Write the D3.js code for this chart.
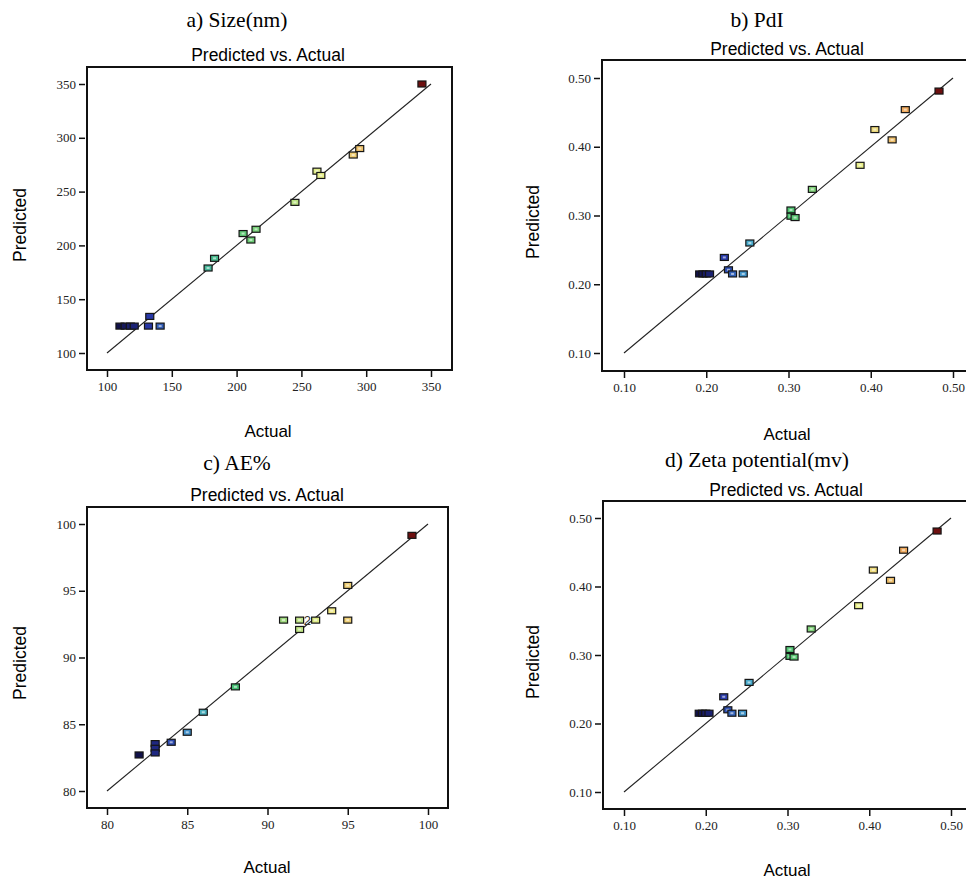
<!DOCTYPE html>
<html>
<head>
<meta charset="utf-8">
<script src="https://cdn.jsdelivr.net/npm/d3@7"></script>
<style>
  body { margin: 0; background: #fff; }
  .tick text { font-family: "Liberation Serif", serif; font-size: 13px; fill: #222; }
  .tick line { stroke: #111; stroke-width: 1.5px; }
</style>
</head>
<body>
<div id="chart"></div>
<script>
// a) Size(nm)
var sizeActual    = [110, 114, 118, 121, 133, 132, 141, 178, 183, 205, 211, 215, 245, 262, 265, 290, 295, 343];
var sizePredicted = [125, 125, 125, 125, 134, 125, 125, 179, 188, 211, 205, 215, 240, 269, 265, 284, 290, 350];
var sizeTicks     = [100, 150, 200, 250, 300, 350];

// b) PdI
var pdiActual    = [0.192, 0.196, 0.200, 0.204, 0.222, 0.227, 0.232, 0.245, 0.253, 0.303, 0.303, 0.308, 0.329, 0.387, 0.405, 0.426, 0.442, 0.483];
var pdiPredicted = [0.215, 0.215, 0.215, 0.215, 0.239, 0.221, 0.215, 0.215, 0.260, 0.308, 0.299, 0.297, 0.338, 0.373, 0.425, 0.410, 0.454, 0.481];
var pdiTicks     = [0.10, 0.20, 0.30, 0.40, 0.50];

// c) AE%
var aeActual    = [82, 83, 83, 83, 84, 85, 86, 88, 91, 92, 92, 93, 94, 95, 95, 99];
var aePredicted = [82.7, 83.55, 83.2, 82.85, 83.65, 84.4, 85.9, 87.8, 92.8, 92.8, 92.1, 92.8, 93.5, 95.4, 92.8, 99.15];
var aeTicks     = [80, 85, 90, 95, 100];
var aeNotes     = [{actual: 93, predicted: 92.8, text: "2"}];

// d) Zeta potential(mv)
var zetaActual    = [0.192, 0.196, 0.200, 0.204, 0.222, 0.227, 0.232, 0.245, 0.253, 0.303, 0.303, 0.308, 0.329, 0.387, 0.405, 0.426, 0.442, 0.483];
var zetaPredicted = [0.215, 0.215, 0.215, 0.215, 0.239, 0.220, 0.215, 0.215, 0.260, 0.308, 0.298, 0.297, 0.338, 0.372, 0.424, 0.409, 0.453, 0.481];
var zetaTicks     = [0.10, 0.20, 0.30, 0.40, 0.50];

var svg = d3.select("#chart").append("svg")
    .attr("width", 966)
    .attr("height", 880)
    .style("background-color", "#fff");

// rainbow used by the design software, low = navy, high = dark red
var rainbow = d3.scaleLinear()
    .domain([0, 0.1, 0.2, 0.36, 0.68, 0.88, 1])
    .range(["#12124a", "#2838a8", "#48a8d0", "#46c070", "#eef08a", "#eea055", "#6e1010"]);

function panel(opt) {
    var g = svg.append("g");
    var x = d3.scaleLinear().domain(opt.domain).range(opt.xr);
    var y = d3.scaleLinear().domain(opt.domain).range(opt.yr);
    var ext = d3.extent(opt.actual);

    g.append("text")
        .attr("x", opt.title[0]).attr("y", opt.title[1])
        .attr("text-anchor", "middle")
        .style("font-family", "Liberation Serif, serif")
        .style("font-size", "21.5px")
        .text(opt.label);

    g.append("text")
        .attr("x", opt.sub[0]).attr("y", opt.sub[1])
        .attr("text-anchor", "middle")
        .style("font-family", "Liberation Sans, Arial, sans-serif")
        .style("font-size", "17.5px")
        .text("Predicted vs. Actual");

    g.append("rect")
        .attr("x", opt.frame[0]).attr("y", opt.frame[1])
        .attr("width", opt.frame[2] - opt.frame[0])
        .attr("height", opt.frame[3] - opt.frame[1])
        .attr("fill", "none")
        .attr("stroke", "#111")
        .attr("stroke-width", 2);

    var fmt = opt.fmt;
    var yAxis = g.append("g")
        .attr("transform", "translate(" + (opt.frame[0] - 2) + ",0)")
        .call(d3.axisLeft(y).tickValues(opt.ticks).tickSize(6).tickPadding(3).tickFormat(fmt));
    yAxis.select(".domain").remove();

    var xAxis = g.append("g")
        .attr("transform", "translate(0," + (opt.frame[3] + 1) + ")")
        .call(d3.axisBottom(x).tickValues(opt.ticks).tickSize(6).tickPadding(5).tickFormat(fmt));
    xAxis.select(".domain").remove();

    // y = x reference line
    g.append("line")
        .attr("x1", x(opt.domain[0])).attr("y1", y(opt.domain[0]))
        .attr("x2", x(opt.domain[1])).attr("y2", y(opt.domain[1]))
        .attr("stroke", "#222")
        .attr("stroke-width", 1.1);

    var pts = opt.actual.map(function(a, i) { return {a: a, p: opt.predicted[i]}; });

    var mark = g.append("g").selectAll("g")
        .data(pts)
        .enter().append("g")
        .attr("transform", function(d) { return "translate(" + x(d.a) + "," + y(d.p) + ")"; });

    mark.append("rect")
        .attr("x", -4).attr("y", -3)
        .attr("width", 8).attr("height", 6)
        .attr("fill", function(d) { return rainbow((d.a - ext[0]) / (ext[1] - ext[0])); })
        .attr("stroke", "#151515")
        .attr("stroke-width", 1.2);

    mark.append("rect")
        .attr("x", -1.5).attr("y", -1)
        .attr("width", 3).attr("height", 2)
        .attr("fill", function(d) {
            var t = (d.a - ext[0]) / (ext[1] - ext[0]);
            if (t < 0.1 || t > 0.95) return rainbow(t);
            return d3.interpolateRgb(rainbow(t), "#fff")(0.55);
        });

    if (opt.notes) {
        g.selectAll(".note")
            .data(opt.notes)
            .enter().append("text")
            .attr("class", "note")
            .attr("x", function(d) { return x(d.actual) - 12; })
            .attr("y", function(d) { return y(d.predicted) + 5; })
            .style("font-family", "Liberation Sans, Arial, sans-serif")
            .style("font-size", "13px")
            .attr("fill", "#333")
            .text(function(d) { return d.text; });
    }

    g.append("text")
        .attr("transform", "translate(" + opt.ylab[0] + "," + opt.ylab[1] + ") rotate(-90)")
        .attr("text-anchor", "middle")
        .attr("dominant-baseline", "central")
        .style("font-family", "Liberation Sans, Arial, sans-serif")
        .style("font-size", "17.5px")
        .text("Predicted");

    g.append("text")
        .attr("x", opt.xlab[0]).attr("y", opt.xlab[1])
        .attr("text-anchor", "middle")
        .style("font-family", "Liberation Sans, Arial, sans-serif")
        .style("font-size", "17px")
        .text("Actual");
}

panel({
    label: "a) Size(nm)", actual: sizeActual, predicted: sizePredicted, ticks: sizeTicks,
    domain: [100, 350], fmt: d3.format("d"),
    frame: [87, 67, 452, 370], xr: [107, 431], yr: [353, 84],
    title: [237, 27], sub: [268, 61], ylab: [20, 225], xlab: [268, 437]
});

panel({
    label: "b) PdI", actual: pdiActual, predicted: pdiPredicted, ticks: pdiTicks,
    domain: [0.10, 0.50], fmt: d3.format(".2f"),
    frame: [602, 60, 985, 371], xr: [624, 953], yr: [353, 78],
    title: [757, 27], sub: [787, 55], ylab: [533, 222], xlab: [787, 440]
});

panel({
    label: "c) AE%", actual: aeActual, predicted: aePredicted, ticks: aeTicks, notes: aeNotes,
    domain: [80, 100], fmt: d3.format("d"),
    frame: [87, 507, 448, 808], xr: [107, 428], yr: [791, 524],
    title: [237, 470], sub: [267, 501], ylab: [20, 663], xlab: [267, 873]
});

panel({
    label: "d) Zeta potential(mv)", actual: zetaActual, predicted: zetaPredicted, ticks: zetaTicks,
    domain: [0.10, 0.50], fmt: d3.format(".2f"),
    frame: [603, 501, 985, 809], xr: [624, 951], yr: [792, 518],
    title: [757, 467], sub: [786, 496], ylab: [533, 662], xlab: [787, 876]
});
</script>
</body>
</html>
